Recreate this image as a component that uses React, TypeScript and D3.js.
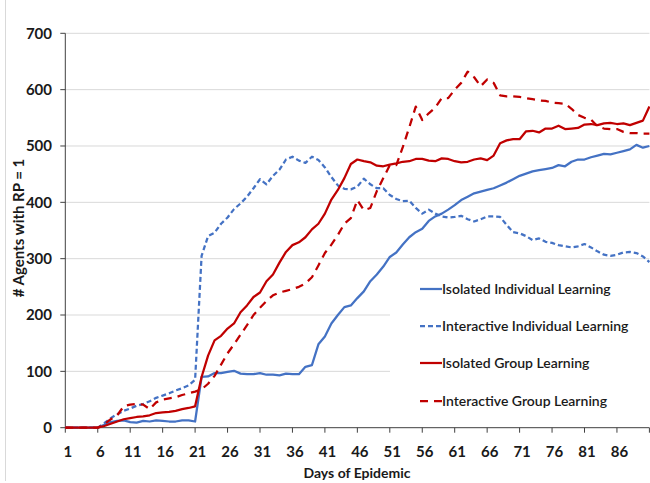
import React from 'react'
import * as d3 from 'd3'

// days 1..91 on the category axis
const days = d3.range(1, 92)
const tickDays = [1, 6, 11, 16, 21, 26, 31, 36, 41, 46, 51, 56, 61, 66, 71, 76, 81, 86]
const yTicks = [0, 100, 200, 300, 400, 500, 600, 700]

const isolatedIndividual = [
  0, 0, 0, 0, 0, 0, 5, 10, 12, 13, 10, 9, 12, 11, 13, 12, 11, 11, 13, 13,
  11, 90, 91, 97, 97, 99, 101, 96, 95, 95, 97, 94, 94, 93, 96, 95, 95, 108, 111, 148,
  162, 185, 200, 214, 217, 230, 242, 260, 272, 286, 303, 311, 325, 338, 347, 353, 367, 375, 380, 387,
  395, 404, 410, 416, 419, 422, 425, 430, 435, 441, 447, 451, 455, 457, 459, 461, 466, 464, 472, 476,
  476, 480, 483, 486, 485, 488, 491, 494, 502, 497, 500,
]
const interactiveIndividual = [
  0, 0, 0, 0, 0, 0, 8, 17, 24, 30, 34, 39, 42, 47, 53, 57, 61, 66, 70, 75,
  85, 305, 340, 346, 362, 373, 388, 398, 410, 425, 441, 432, 447, 458, 476, 481, 474, 470, 481, 475,
  462, 445, 430, 424, 423, 428, 442, 432, 425, 425, 413, 406, 402, 403, 390, 380, 387, 380, 375, 373,
  374, 376, 370, 366, 370, 375, 375, 374, 360, 347, 345, 340, 333, 336, 330, 328, 324, 322, 320, 322,
  326, 320, 313, 307, 305, 307, 311, 312, 310, 304, 294,
]
const isolatedGroup = [
  0, 0, 0, 0, 0, 0, 3, 7, 11, 15, 17, 19, 20, 22, 26, 27, 28, 30, 33, 35,
  38, 90, 128, 155, 163, 176, 185, 205, 217, 232, 240, 260, 272, 293, 312, 324, 329, 338, 352, 362,
  380, 405, 422, 443, 468, 476, 473, 471, 465, 464, 467, 469, 472, 473, 477, 477, 474, 473, 478, 477,
  473, 471, 472, 476, 478, 475, 483, 505, 510, 512, 512, 526, 527, 524, 531, 531, 536, 530, 531, 532,
  538, 539, 537, 540, 541, 539, 540, 537, 541, 545, 570,
]
const interactiveGroup = [
  0, 0, 0, 0, 0, 0, 6, 15, 22, 38, 41, 42, 41, 33, 45, 50, 52, 54, 58, 61,
  64, 68, 78, 92, 112, 132, 148, 165, 182, 200, 213, 225, 235, 240, 243, 246, 250, 256, 267, 288,
  310, 325, 342, 362, 372, 404, 386, 390, 420, 443, 466, 466, 498, 533, 570, 546, 558, 568, 585, 585,
  600, 612, 632, 622, 606, 618, 612, 590, 588, 588, 587, 585, 583, 581, 580, 577, 576, 575, 566, 555,
  550, 547, 535, 531, 530, 530, 525, 523, 523, 522, 522,
]

const seriesNames = [
  'Isolated Individual Learning',
  'Interactive Individual Learning',
  'Isolated Group Learning',
  'Interactive Group Learning',
]
const seriesData = [isolatedIndividual, interactiveIndividual, isolatedGroup, interactiveGroup]
const seriesColors = ['#4472C4', '#4472C4', '#C00000', '#C00000']
const seriesDash = [null, '5,3', null, '8,6']

const W = 650
const H = 483
const font = 'Lato, "Open Sans", sans-serif'

export default function App() {
  const x = d3.scaleLinear().domain([1, 91]).range([65.3, 649.4])
  const y = d3.scaleLinear().domain([0, 700]).range([427.7, 33.3])

  const line = d3
    .line<number>()
    .x((_, i) => x(days[i]))
    .y(d => y(d))

  const legendX = 420
  const legendY = [289, 326, 363, 401]

  return (
    <svg width={W} height={H} style={{ position: 'absolute', left: 0, top: 0, background: '#fff' }}>
      <rect x={0} y={0} width={W} height={H} fill="#fff" />
      <line x1={5.5} x2={5.5} y1={0} y2={481} stroke="#d9d9d9" />

      {/* gridlines */}
      {yTicks.slice(1).map(t => (
        <line key={t} x1={x(1)} x2={x(91)} y1={y(t)} y2={y(t)} stroke="#d9d9d9" strokeWidth={1} />
      ))}

      {/* legend background hides the grid behind it */}
      <rect x={390} y={264} width={260} height={158} fill="#fff" />

      {/* y axis */}
      <line x1={x(1)} x2={x(1)} y1={y(700)} y2={y(0)} stroke="#404040" strokeWidth={1} />
      {yTicks.map(t => (
        <g key={t}>
          <line x1={x(1) - 5} x2={x(1)} y1={y(t)} y2={y(t)} stroke="#404040" />
          <text
            x={52}
            y={y(t)}
            dy="0.35em"
            textAnchor="end"
            fontFamily={font}
            fontWeight={700}
            fontSize={15}
            fill="#1a1a1a"
          >
            {t}
          </text>
        </g>
      ))}

      {/* x axis */}
      <line x1={x(1)} x2={x(91)} y1={y(0)} y2={y(0)} stroke="#404040" strokeWidth={1} />
      {tickDays.concat([91]).map(d => (
        <line key={d} x1={x(d)} x2={x(d)} y1={y(0)} y2={y(0) + 5} stroke="#404040" />
      ))}
      {tickDays.map(d => (
        <text
          key={d}
          x={x(d) + 2.5}
          y={457}
          textAnchor="middle"
          fontFamily={font}
          fontWeight={700}
          fontSize={15}
          fill="#1a1a1a"
        >
          {d}
        </text>
      ))}

      <text x={357} y={478} textAnchor="middle" fontFamily={font} fontWeight={700} fontSize={14} fill="#1a1a1a">
        Days of Epidemic
      </text>
      <text
        transform="translate(24,228) rotate(-90)"
        textAnchor="middle"
        fontFamily={font}
        fontWeight={700}
        fontSize={15}
        fill="#1a1a1a"
      >
        # Agents with RP = 1
      </text>

      {/* series */}
      {seriesData.map((s, i) => (
        <path
          key={seriesNames[i]}
          d={line(s) || ''}
          fill="none"
          stroke={seriesColors[i]}
          strokeWidth={2.25}
          strokeDasharray={seriesDash[i] || undefined}
          strokeLinejoin="round"
        />
      ))}

      {/* legend */}
      {seriesNames.map((n, i) => (
        <g key={n}>
          <line
            x1={legendX}
            x2={legendX + 22}
            y1={legendY[i]}
            y2={legendY[i]}
            stroke={seriesColors[i]}
            strokeWidth={2.25}
            strokeDasharray={seriesDash[i] || undefined}
          />
          <text
            x={legendX + 22}
            y={legendY[i]}
            dy="0.35em"
            fontFamily={font}
            fontWeight={600}
            fontSize={14}
            fill="#1a1a1a"
          >
            {n}
          </text>
        </g>
      ))}
    </svg>
  )
}
